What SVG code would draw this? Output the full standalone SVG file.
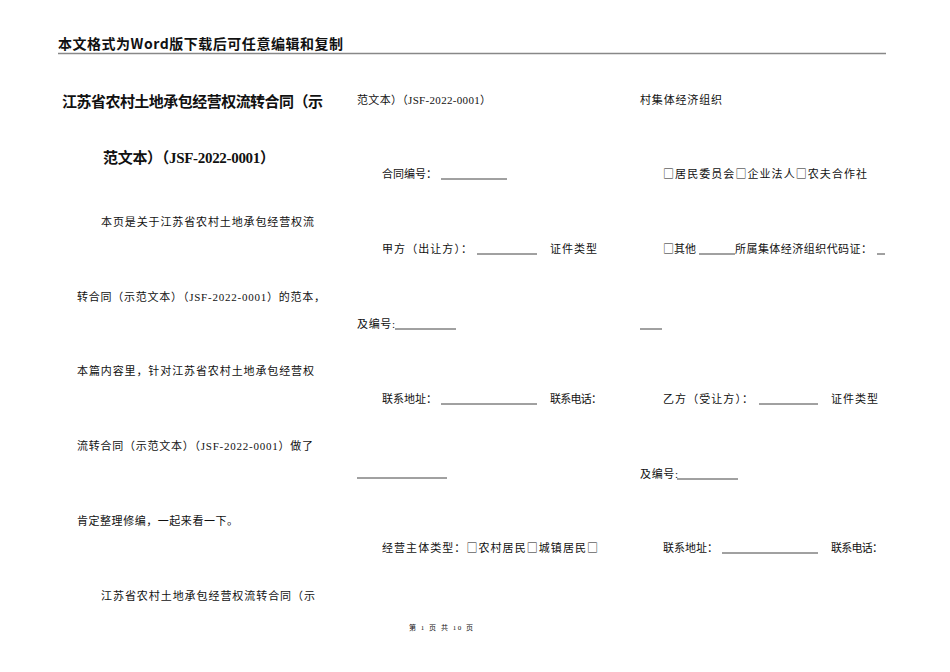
<svg xmlns="http://www.w3.org/2000/svg" width="950" height="672" viewBox="0 0 950 672">
<style>
text{font-family:"Liberation Serif","Noto Sans CJK SC",serif;fill:#111}
.h{font-family:"Noto Sans CJK SC",sans-serif;font-size:14px;font-weight:bold}
.t{font-size:15px;font-weight:bold}
.b{font-size:11px}
.f{font-size:7px}
.s{font-family:"Noto Sans CJK SC",sans-serif}
.u{stroke:#111;stroke-width:0.8}
</style>
<rect width="950" height="672" fill="#fff"/>
<text class="h" x="58" y="49" textLength="285">本文格式为Word版下载后可任意编辑和复制</text>
<line x1="58" y1="53.5" x2="886" y2="53.5" stroke="#888" stroke-width="1.5"/>
<g id="left">
<text class="t" x="62" y="107" textLength="261">江苏省农村土地承包经营权流转合同（示</text>
<text class="t" x="103" y="163" textLength="172">范文本）（JSF-2022-0001）</text>
<text class="b" x="101" y="226" textLength="213">本页是关于江苏省农村土地承包经营权流</text>
<text class="b" x="77" y="301" textLength="248">转合同（示范文本）（JSF-2022-0001）的范本，</text>
<text class="b" x="77" y="375" textLength="237">本篇内容里，针对江苏省农村土地承包经营权</text>
<text class="b" x="77" y="450" textLength="236">流转合同（示范文本）（JSF-2022-0001）做了</text>
<text class="b" x="77" y="525" textLength="161">肯定整理修编，一起来看一下。</text>
<text class="b" x="101" y="600" textLength="214">江苏省农村土地承包经营权流转合同（示</text>
</g>
<g id="middle">
<text class="b" x="357" y="104" textLength="134">范文本）（JSF-2022-0001）</text>
<text class="b" x="382" y="178" textLength="55">合同编号：</text>
<line class="u" x1="441" y1="179" x2="507" y2="179"/>
<text class="b" x="382" y="253" textLength="90">甲方（出让方）：</text>
<line class="u" x1="477" y1="254" x2="537" y2="254"/>
<text class="b" x="550" y="253" textLength="47">证件类型</text>
<text class="b" x="357" y="328" textLength="38">及编号:</text>
<line class="u" x1="395" y1="329" x2="456" y2="329"/>
<text class="b" x="382" y="403" textLength="55">联系地址：</text>
<line class="u" x1="441" y1="404" x2="537" y2="404"/>
<text class="b" x="550" y="403" textLength="52">联系电话：</text>
<line class="u" x1="357" y1="478" x2="447" y2="478"/>
<text class="b" x="382" y="552" textLength="216">经营主体类型：<tspan class="s">□</tspan>农村居民<tspan class="s">□</tspan>城镇居民<tspan class="s">□</tspan></text>
</g>
<g id="right">
<text class="b" x="640" y="104" textLength="82">村集体经济组织</text>
<text class="b" x="663" y="178" textLength="204"><tspan class="s">□</tspan>居民委员会<tspan class="s">□</tspan>企业法人<tspan class="s">□</tspan>农夫合作社</text>
<text class="b" x="663" y="253"><tspan class="s">□</tspan>其他</text>
<line class="u" x1="699" y1="254" x2="735" y2="254"/>
<text class="b" x="735" y="253" textLength="137">所属集体经济组织代码证：</text>
<line class="u" x1="877" y1="254" x2="885" y2="254"/>
<line class="u" x1="640" y1="329" x2="662" y2="329"/>
<text class="b" x="663" y="403" textLength="90">乙方（受让方）：</text>
<line class="u" x1="759" y1="404" x2="818" y2="404"/>
<text class="b" x="831" y="403" textLength="47">证件类型</text>
<text class="b" x="640" y="478" textLength="38">及编号:</text>
<line class="u" x1="677" y1="479" x2="738" y2="479"/>
<text class="b" x="663" y="552" textLength="55">联系地址：</text>
<line class="u" x1="722" y1="553" x2="818" y2="553"/>
<text class="b" x="831" y="552" textLength="52">联系电话：</text>
</g>
<text class="f" x="409" y="630" textLength="64">第 1 页 共 10 页</text>
</svg>
